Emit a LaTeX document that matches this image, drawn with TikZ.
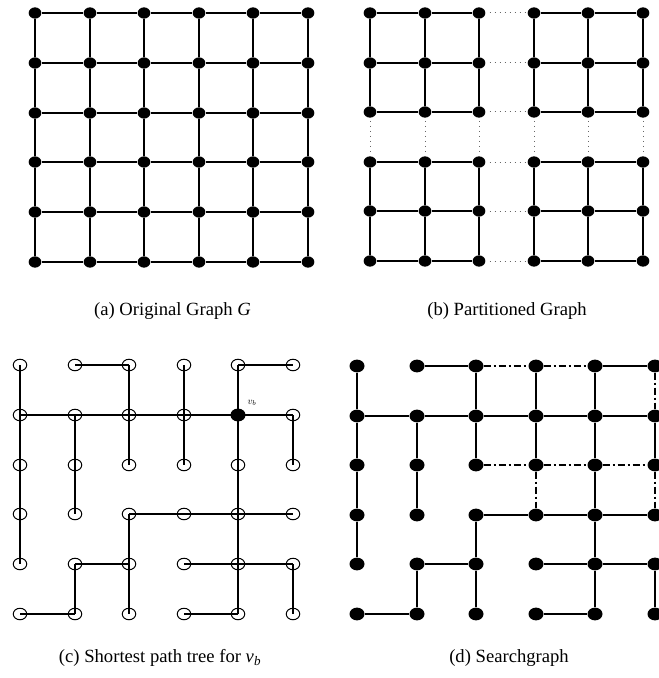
\documentclass[tikz,border=0pt]{standalone}
\usepackage{fontspec}
\setmainfont{Liberation Serif}
\usetikzlibrary{shapes.geometric}

\tikzset{
    vtx/.style={ellipse, fill, inner sep=0pt, minimum width=12.7bp, minimum height=11.3bp},
    ovtx/.style={ellipse, draw, line width=1bp, inner sep=0pt, minimum width=13.5bp, minimum height=11.5bp},
    bvtx/.style={ellipse, fill, inner sep=0pt, minimum width=15bp, minimum height=12.8bp},
    edge/.style={line width=2bp},
    cut/.style={line width=1bp, gray!80!black, dash pattern=on 1bp off 4bp},
    extra/.style={line width=2bp, dash pattern=on 7bp off 3bp on 2bp off 3bp},
    captxt/.style={font=\fontsize{18.7}{22}\selectfont, anchor=base},
    lbl/.style={font=\fontsize{10}{11}\selectfont, inner sep=0pt}
}

\begin{document}
\begin{tikzpicture}[x=1bp, y=-1bp]
    \useasboundingbox (0,0) rectangle (659,678);
    % Original graph
    \begin{scope}[shift={(35,13)}]
        \foreach \c in {0,...,5}
            \foreach \r in {0,...,5}
                \node[vtx] (a-\c-\r) at ({round(\c*54.6)}, {round(\r*49.8)}) {};
        \foreach \c in {0,...,5}
            \foreach \r [count=\s] in {0,...,4} {
                \draw[edge] (a-\c-\r) -- (a-\c-\s);
                \draw[edge] (a-\r-\c) -- (a-\s-\c);
            }
    \end{scope}
    \node[captxt] (capa) at (172.5,315) {(a) Original Graph \textit{G}};
    % Partitioned graph
    \begin{scope}[shift={(370,13)}]
        \foreach \c in {0,...,5}
            \foreach \r in {0,...,5}
                \node[vtx] (b-\c-\r) at ({round(\c*54.6)}, {round(\r*49.6)}) {};
        \foreach \c in {0,...,5}
            \foreach \r [count=\s] in {0,...,4} {
                \ifnum\r=2
                    \draw[cut, shorten <=3bp, shorten >=3bp] (b-\c-\r) -- (b-\c-\s);
                    \draw[cut, shorten <=4bp, shorten >=2bp] (b-\r-\c) -- (b-\s-\c);
                \else
                    \draw[edge] (b-\c-\r) -- (b-\c-\s);
                    \draw[edge] (b-\r-\c) -- (b-\s-\c);
                \fi
            }
    \end{scope}
    \node[captxt] (capb) at (507,315) {(b) Partitioned Graph};
    % Shortest path tree
    \begin{scope}[shift={(20,365)}]
        \foreach \c in {0,...,5}
            \foreach \r in {0,...,5}
                \node[ovtx] (c-\c-\r) at ({round(\c*54.6)}, {round(\r*49.8)}) {};
        \foreach \c/\r [evaluate=\c as \d using int(\c+1)] in
            {1/0, 4/0, 0/1, 1/1, 2/1, 3/1, 4/1, 2/3, 3/3, 4/3, 1/4, 3/4, 4/4, 0/5, 3/5}
            \draw[edge] (c-\c-\r.center) -- (c-\d-\r.center);
        \foreach \c/\r [evaluate=\r as \s using int(\r+1)] in
            {0/0, 0/1, 0/2, 0/3, 1/1, 1/2, 1/4, 2/0, 2/1, 2/3, 2/4,
             3/0, 3/1, 4/0, 4/1, 4/2, 4/3, 4/4, 5/1, 5/4}
            \draw[edge] (c-\c-\r.center) -- (c-\c-\s.center);
        \node[bvtx] (vb) at (c-4-1) {};
    \end{scope}
    \node[lbl] (vblbl) at (252,403) {$v_b$};
    \node[captxt] (capc) at (160,662) {(c) Shortest path tree for \textit{v}\textsubscript{\textit{b}}};
    % Searchgraph
    \begin{scope}[shift={(357,366)}]
        \foreach \c in {0,...,5}
            \foreach \r in {0,...,5}
                \node[bvtx] (d-\c-\r) at ({round(\c*59.6)}, {round(\r*49.5)}) {};
        \foreach \c/\r [evaluate=\c as \d using int(\c+1)] in
            {1/0, 4/0, 0/1, 1/1, 2/1, 3/1, 4/1, 2/3, 3/3, 4/3, 1/4, 3/4, 4/4, 0/5, 3/5}
            \draw[edge] (d-\c-\r) -- (d-\d-\r);
        \foreach \c/\r [evaluate=\r as \s using int(\r+1)] in
            {0/0, 0/1, 0/2, 0/3, 1/1, 1/2, 1/4, 2/0, 2/1, 2/3, 2/4,
             3/0, 3/1, 4/0, 4/1, 4/2, 4/3, 4/4, 5/1, 5/4}
            \draw[edge] (d-\c-\r) -- (d-\c-\s);
        % extra edges of the searchgraph
        \foreach \c/\r [evaluate=\c as \d using int(\c+1)] in {2/0, 3/0, 2/2, 3/2, 4/2}
            \draw[extra] (d-\c-\r) -- (d-\d-\r);
        \foreach \c/\r [evaluate=\r as \s using int(\r+1)] in {3/2, 5/0, 5/2}
            \draw[extra] (d-\c-\r) -- (d-\c-\s);
    \end{scope}
    \node[captxt] (capd) at (509,662) {(d) Searchgraph};
\end{tikzpicture}
\end{document}
